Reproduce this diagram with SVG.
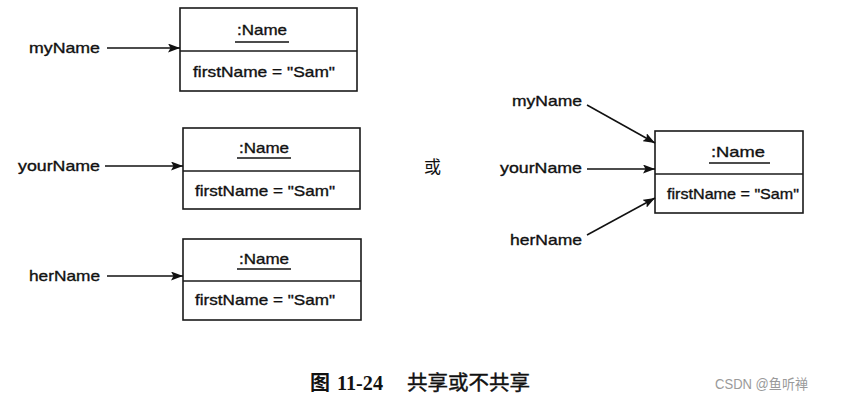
<svg xmlns="http://www.w3.org/2000/svg" width="865" height="400" viewBox="0 0 865 400">
<style>
.box{fill:#fff;stroke:#1a1a1a;stroke-width:1.6}
.div{stroke:#1a1a1a;stroke-width:1.4}
.t{font-family:"Liberation Sans",Arial,sans-serif;font-size:15px;fill:#111;stroke:#111;stroke-width:0.35}
.ul{stroke:#111;stroke-width:1.3}
.c{stroke:#111;stroke-width:1.5;fill:none;marker-end:url(#ah)}
.cap{font-family:"Liberation Serif","Noto Sans CJK SC",serif;font-size:20px;fill:#111}
.wm{font-family:"Liberation Sans","Noto Sans CJK SC",sans-serif;font-size:14px;fill:#9a9a9a}
</style>
<defs>
<marker id="ah" viewBox="0 0 12 9" refX="12" refY="4.5" markerWidth="12" markerHeight="9" markerUnits="userSpaceOnUse" orient="auto">
<path d="M0,0 L12,4.5 L0,9 L2.5,4.5 Z" fill="#111"/>
</marker>
</defs>
<rect width="865" height="400" fill="#fff"/>

<g id="obj1">
<rect class="box" x="180" y="8" width="177" height="83"/>
<line class="div" x1="180" y1="51" x2="357" y2="51"/>
<text class="t" x="237" y="35" textLength="50" lengthAdjust="spacingAndGlyphs">:Name</text>
<line class="ul" x1="235" y1="42" x2="289" y2="42"/>
<text class="t" x="193" y="77" textLength="142" lengthAdjust="spacingAndGlyphs">firstName = "Sam"</text>
</g>
<g id="obj2">
<rect class="box" x="183" y="128" width="177" height="81"/>
<line class="div" x1="183" y1="171" x2="360" y2="171"/>
<text class="t" x="239" y="153" textLength="50" lengthAdjust="spacingAndGlyphs">:Name</text>
<line class="ul" x1="237" y1="158" x2="291" y2="158"/>
<text class="t" x="195" y="196" textLength="140" lengthAdjust="spacingAndGlyphs">firstName = "Sam"</text>
</g>
<g id="obj3">
<rect class="box" x="183" y="239" width="178" height="81"/>
<line class="div" x1="183" y1="281" x2="361" y2="281"/>
<text class="t" x="239" y="264" textLength="50" lengthAdjust="spacingAndGlyphs">:Name</text>
<line class="ul" x1="237" y1="269" x2="291" y2="269"/>
<text class="t" x="195" y="305" textLength="140" lengthAdjust="spacingAndGlyphs">firstName = "Sam"</text>
</g>
<g id="objShared">
<rect class="box" x="655" y="131" width="148" height="82"/>
<line class="div" x1="655" y1="174" x2="803" y2="174"/>
<text class="t" x="711" y="157" textLength="54" lengthAdjust="spacingAndGlyphs">:Name</text>
<line class="ul" x1="709" y1="163" x2="770" y2="163"/>
<text class="t" x="667" y="199" textLength="132" lengthAdjust="spacingAndGlyphs">firstName = "Sam"</text>
</g>

<g id="labels">
<text class="t" x="29" y="53" textLength="71" lengthAdjust="spacingAndGlyphs">myName</text>
<text class="t" x="18" y="171" textLength="82" lengthAdjust="spacingAndGlyphs">yourName</text>
<text class="t" x="29" y="281" textLength="71" lengthAdjust="spacingAndGlyphs">herName</text>
<text class="t" x="512" y="106" textLength="70" lengthAdjust="spacingAndGlyphs">myName</text>
<text class="t" x="500" y="173" textLength="82" lengthAdjust="spacingAndGlyphs">yourName</text>
<text class="t" x="510" y="245" textLength="72" lengthAdjust="spacingAndGlyphs">herName</text>
<text x="424" y="173" font-family="Noto Sans CJK SC,sans-serif" font-size="17" fill="#111">或</text>
</g>

<g id="connectors">
<line class="c" x1="107" y1="48" x2="180" y2="48"/>
<line class="c" x1="105" y1="166" x2="183" y2="166"/>
<line class="c" x1="107" y1="276" x2="183" y2="276"/>
<line class="c" x1="587" y1="105" x2="655" y2="143"/>
<line class="c" x1="587" y1="169" x2="655" y2="169"/>
<line class="c" x1="587" y1="235" x2="655" y2="198"/>
</g>

<g id="caption">
<text class="cap" x="310" y="390" font-weight="bold">图</text>
<text class="cap" x="337" y="390" font-weight="bold" textLength="46" lengthAdjust="spacingAndGlyphs">11-24</text>
<text class="cap" x="407" y="390" textLength="123" lengthAdjust="spacingAndGlyphs" stroke="#111" stroke-width="0.4">共享或不共享</text>
<text class="wm" x="715" y="389" textLength="93" lengthAdjust="spacingAndGlyphs">CSDN @鱼听禅</text>
</g>
</svg>
